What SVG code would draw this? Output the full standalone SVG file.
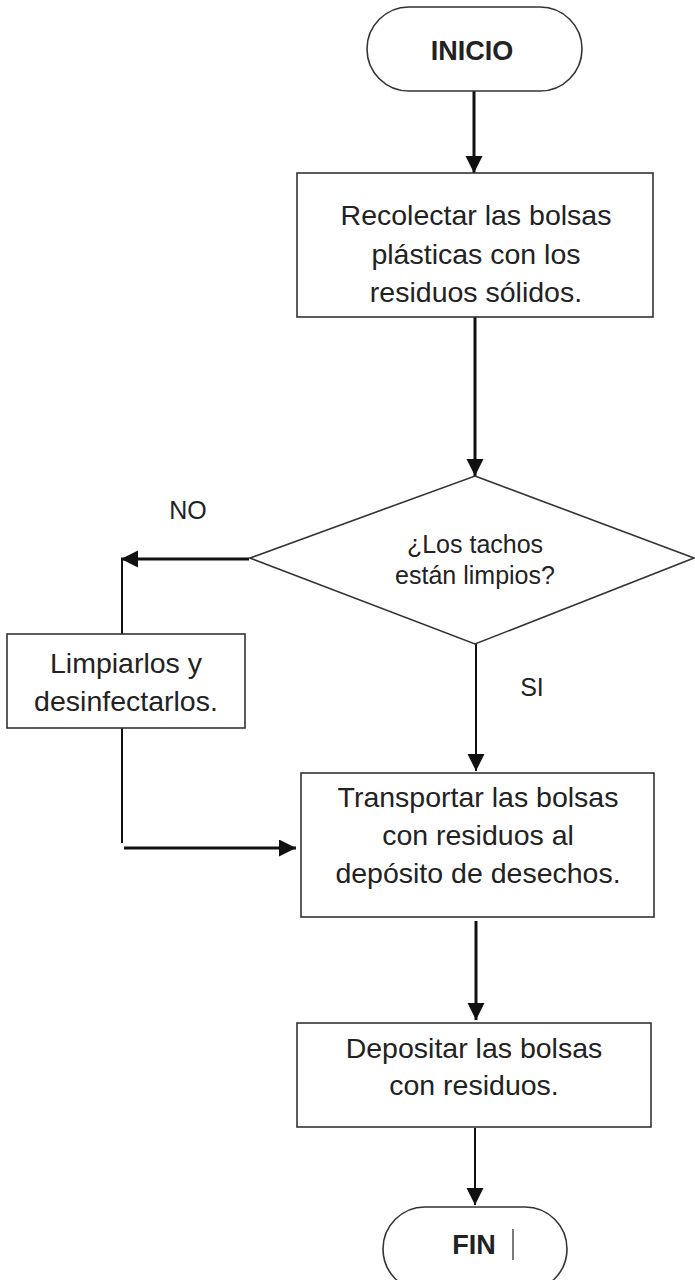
<svg xmlns="http://www.w3.org/2000/svg" width="695" height="1280" viewBox="0 0 695 1280">
<style>
.box{fill:#fff;stroke:#333;stroke-width:1.6}
.t{font-family:"Liberation Sans",Arial,sans-serif;font-size:28.5px;fill:#222;text-anchor:middle}
.b{font-family:"Liberation Sans",Arial,sans-serif;font-size:27px;font-weight:bold;fill:#222;text-anchor:middle}
.d{font-family:"Liberation Sans",Arial,sans-serif;font-size:25px;fill:#222;text-anchor:middle}
.thick{stroke:#111;stroke-width:3;fill:none}
.thin{stroke:#111;stroke-width:2;fill:none}
</style>
<defs>
<marker id="ah" markerUnits="userSpaceOnUse" markerWidth="18" markerHeight="18" refX="17" refY="8.5" orient="auto">
<path d="M0,0 L17,8.5 L0,17 z" fill="#111"/>
</marker>
</defs>
<rect width="695" height="1280" fill="#fff"/>
<g id="connectors">
<line class="thick" x1="474" y1="91" x2="474" y2="173" marker-end="url(#ah)"/>
<line class="thick" x1="475" y1="317" x2="475" y2="476" marker-end="url(#ah)"/>
<line class="thick" x1="249" y1="559" x2="121" y2="559" marker-end="url(#ah)"/>
<line class="thin" x1="122" y1="559" x2="122" y2="634"/>
<line class="thin" x1="122" y1="728" x2="122" y2="843"/>
<line class="thick" x1="124" y1="848" x2="296" y2="848" marker-end="url(#ah)"/>
<line class="thin" x1="476" y1="644" x2="476" y2="771" marker-end="url(#ah)"/>
<line class="thick" x1="476" y1="921" x2="476" y2="1020" marker-end="url(#ah)"/>
<line class="thin" x1="475" y1="1128" x2="475" y2="1205" marker-end="url(#ah)"/>
</g>
<g id="inicio">
<rect class="box" x="367" y="7" width="215" height="84" rx="42" ry="42"/>
<text class="b" x="472" y="60">INICIO</text>
</g>
<g id="recolectar">
<rect class="box" x="297" y="173" width="356" height="144"/>
<text class="t" x="476" y="225">Recolectar las bolsas</text>
<text class="t" x="476" y="263.5">plásticas con los</text>
<text class="t" x="476" y="302">residuos sólidos.</text>
</g>
<g id="decision">
<polygon class="box" points="475,476 694,558 475,644 250,558"/>
<text class="d" x="475" y="553">¿Los tachos</text>
<text class="d" x="475" y="584">están limpios?</text>
</g>
<g id="label-no"><text class="d" x="188" y="519">NO</text></g>
<g id="label-si"><text class="d" x="532" y="696">SI</text></g>
<g id="limpiar">
<rect class="box" x="7" y="634" width="238" height="94"/>
<text class="t" x="126" y="673">Limpiarlos y</text>
<text class="t" x="126" y="711">desinfectarlos.</text>
</g>
<g id="transportar">
<rect class="box" x="301" y="773" width="353" height="144"/>
<text class="t" x="478" y="807">Transportar las bolsas</text>
<text class="t" x="478" y="845">con residuos al</text>
<text class="t" x="478" y="883">depósito de desechos.</text>
</g>
<g id="depositar">
<rect class="box" x="297" y="1023" width="354" height="104"/>
<text class="t" x="474" y="1058">Depositar las bolsas</text>
<text class="t" x="474" y="1095">con residuos.</text>
</g>
<g id="fin">
<rect class="box" x="383" y="1207" width="184" height="84" rx="42" ry="42"/>
<text class="b" x="474" y="1254">FIN</text>
<line x1="513" y1="1229" x2="513" y2="1260" stroke="#222" stroke-width="1.2"/>
</g>
</svg>
